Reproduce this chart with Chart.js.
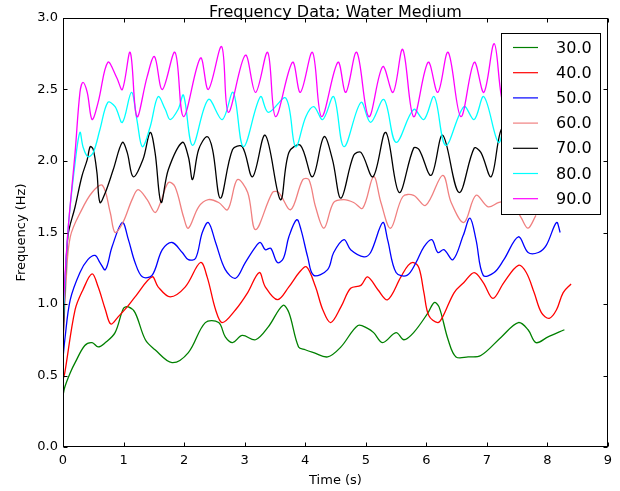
<!DOCTYPE html>
<html>
<head>
<meta charset="utf-8">
<script src="https://cdn.jsdelivr.net/npm/chart.js@4.4.1/dist/chart.umd.min.js"></script>
<style>
    body { margin: 0; background: #fff; }
    #wrap { width: 620px; height: 491px; }
</style>
</head>
<body>
<div id="wrap"><canvas id="freqChart" width="620" height="491"></canvas></div>
<script>
// Frequency (Hz) against time (s), one series per setting
const labels = ["30.0", "40.0", "50.0", "60.0", "70.0", "80.0", "90.0"];
const colors = ["#008000", "#ff0000", "#0000ff", "#f08080", "#000000", "#00ffff", "#ff00ff"];

const time30 = [0, 0.03, 0.12, 0.2, 0.36, 0.48, 0.58, 0.7, 0.86, 1.0, 1.08, 1.19, 1.36, 1.52, 1.8, 2.07, 2.35, 2.57, 2.68, 2.8, 2.96, 3.18, 3.39, 3.63, 3.73, 3.89, 4.0, 4.14, 4.37, 4.59, 4.87, 5.03, 5.13, 5.28, 5.5, 5.63, 5.79, 6.03, 6.13, 6.21, 6.36, 6.49, 6.69, 6.9, 7.24, 7.52, 7.68, 7.81, 8.01, 8.28];
const freq30 = [0.36, 0.42, 0.52, 0.59, 0.71, 0.73, 0.7, 0.73, 0.8, 0.97, 0.98, 0.94, 0.75, 0.68, 0.59, 0.66, 0.87, 0.87, 0.77, 0.73, 0.78, 0.75, 0.84, 0.99, 0.94, 0.7, 0.68, 0.66, 0.63, 0.7, 0.85, 0.83, 0.8, 0.73, 0.8, 0.75, 0.8, 0.94, 1.01, 0.98, 0.75, 0.63, 0.63, 0.64, 0.77, 0.87, 0.82, 0.73, 0.77, 0.82];

const time40 = [0, 0.03, 0.2, 0.33, 0.48, 0.58, 0.7, 0.79, 0.91, 1.06, 1.19, 1.47, 1.57, 1.77, 2.02, 2.27, 2.38, 2.52, 2.63, 2.85, 3.05, 3.24, 3.34, 3.54, 3.73, 3.9, 4.02, 4.17, 4.29, 4.42, 4.59, 4.75, 4.92, 5.03, 5.2, 5.36, 5.58, 5.7, 5.79, 5.88, 5.96, 6.04, 6.19, 6.27, 6.46, 6.62, 6.79, 6.94, 7.1, 7.28, 7.52, 7.65, 7.78, 7.9, 8.03, 8.15, 8.26, 8.39];
const freq40 = [0.47, 0.52, 0.96, 1.1, 1.21, 1.12, 0.96, 0.86, 0.91, 0.98, 1.05, 1.19, 1.12, 1.05, 1.12, 1.29, 1.19, 0.96, 0.87, 0.96, 1.08, 1.22, 1.12, 1.03, 1.12, 1.22, 1.26, 1.12, 0.96, 0.87, 0.98, 1.11, 1.13, 1.19, 1.1, 1.03, 1.19, 1.27, 1.29, 1.25, 1.08, 0.92, 0.87, 0.91, 1.08, 1.15, 1.22, 1.15, 1.04, 1.15, 1.27, 1.22, 1.08, 0.94, 0.9, 0.96, 1.08, 1.14];

const time50 = [0, 0.03, 0.12, 0.28, 0.41, 0.53, 0.61, 0.7, 0.81, 0.98, 1.08, 1.19, 1.31, 1.47, 1.64, 1.8, 1.97, 2.07, 2.19, 2.3, 2.4, 2.52, 2.68, 2.85, 3.01, 3.18, 3.26, 3.34, 3.43, 3.54, 3.64, 3.73, 3.86, 3.93, 4.04, 4.14, 4.37, 4.47, 4.64, 4.75, 4.97, 5.08, 5.28, 5.36, 5.5, 5.68, 5.83, 5.96, 6.09, 6.19, 6.29, 6.44, 6.61, 6.72, 6.82, 6.94, 7.12, 7.28, 7.52, 7.68, 7.85, 7.98, 8.15, 8.21];
const freq50 = [0.62, 0.75, 1.03, 1.22, 1.31, 1.34, 1.29, 1.24, 1.4, 1.57, 1.45, 1.29, 1.19, 1.2, 1.38, 1.43, 1.36, 1.31, 1.32, 1.5, 1.57, 1.43, 1.24, 1.18, 1.29, 1.4, 1.43, 1.38, 1.39, 1.29, 1.32, 1.47, 1.59, 1.52, 1.33, 1.2, 1.24, 1.36, 1.45, 1.38, 1.33, 1.36, 1.57, 1.45, 1.22, 1.2, 1.29, 1.4, 1.45, 1.36, 1.38, 1.31, 1.48, 1.6, 1.45, 1.2, 1.22, 1.31, 1.47, 1.36, 1.36, 1.41, 1.57, 1.5];

const time60 = [0, 0.05, 0.12, 0.31, 0.48, 0.65, 0.78, 0.86, 0.99, 1.14, 1.24, 1.39, 1.52, 1.61, 1.74, 1.85, 1.99, 2.07, 2.24, 2.4, 2.57, 2.72, 2.88, 3.05, 3.18, 3.46, 3.56, 3.76, 3.96, 4.06, 4.17, 4.31, 4.47, 4.64, 4.8, 4.95, 5.13, 5.25, 5.41, 5.61, 5.79, 5.99, 6.27, 6.41, 6.62, 6.82, 7.02, 7.2, 7.4, 7.57, 7.68, 7.81];
const freq60 = [0.7, 1.15, 1.47, 1.66, 1.78, 1.83, 1.64, 1.5, 1.57, 1.73, 1.8, 1.73, 1.64, 1.71, 1.85, 1.82, 1.61, 1.53, 1.68, 1.73, 1.71, 1.66, 1.87, 1.78, 1.52, 1.78, 1.78, 1.66, 1.87, 1.87, 1.68, 1.53, 1.71, 1.73, 1.71, 1.67, 1.89, 1.71, 1.53, 1.75, 1.76, 1.69, 1.9, 1.71, 1.57, 1.76, 1.68, 1.71, 1.72, 1.6, 1.53, 1.62];

const time70 = [0, 0.08, 0.2, 0.31, 0.4, 0.45, 0.5, 0.56, 0.61, 0.7, 0.83, 0.98, 1.06, 1.16, 1.32, 1.44, 1.52, 1.62, 1.74, 1.97, 2.07, 2.14, 2.24, 2.38, 2.47, 2.6, 2.8, 2.96, 3.13, 3.34, 3.59, 3.73, 3.92, 4.12, 4.31, 4.45, 4.59, 4.8, 4.92, 5.12, 5.33, 5.55, 5.79, 5.88, 6.08, 6.27, 6.54, 6.79, 6.9, 7.07, 7.22, 7.35];
const freq70 = [0.75, 1.47, 1.68, 1.89, 2.01, 2.1, 2.08, 1.92, 1.71, 1.78, 1.94, 2.13, 2.06, 1.89, 2.01, 2.2, 2.06, 1.71, 1.94, 2.13, 2.03, 1.87, 2.08, 2.17, 2.08, 1.74, 2.08, 2.1, 1.89, 2.18, 1.73, 2.06, 2.11, 1.89, 2.17, 2.01, 1.74, 2.04, 2.06, 1.89, 2.2, 1.78, 2.09, 2.08, 1.9, 2.18, 1.78, 2.09, 2.06, 1.89, 2.2, 2.3];

const time80 = [0, 0.08, 0.2, 0.28, 0.33, 0.41, 0.5, 0.61, 0.74, 0.86, 0.98, 1.13, 1.22, 1.31, 1.44, 1.57, 1.69, 1.77, 1.9, 1.99, 2.14, 2.4, 2.63, 2.81, 2.98, 3.26, 3.39, 3.68, 3.84, 4.01, 4.14, 4.29, 4.47, 4.64, 4.92, 5.08, 5.3, 5.5, 5.79, 5.96, 6.13, 6.32, 6.62, 6.79, 6.95, 7.19, 7.3];
const freq80 = [0.85, 1.5, 1.99, 2.2, 2.1, 2.03, 2.06, 2.22, 2.41, 2.38, 2.27, 2.48, 2.29, 2.1, 2.24, 2.45, 2.36, 2.29, 2.36, 2.46, 2.11, 2.43, 2.29, 2.48, 2.1, 2.45, 2.34, 2.44, 2.1, 2.31, 2.38, 2.29, 2.45, 2.1, 2.41, 2.27, 2.43, 2.13, 2.36, 2.29, 2.45, 2.11, 2.38, 2.29, 2.45, 2.13, 2.3];

const time90 = [0, 0.08, 0.2, 0.28, 0.33, 0.4, 0.48, 0.58, 0.74, 0.89, 0.98, 1.11, 1.22, 1.39, 1.51, 1.64, 1.85, 1.99, 2.27, 2.4, 2.62, 2.73, 3.01, 3.18, 3.38, 3.51, 3.79, 3.92, 4.12, 4.27, 4.54, 4.67, 4.85, 5.05, 5.28, 5.45, 5.61, 5.79, 6.03, 6.19, 6.36, 6.57, 6.79, 6.95, 7.12, 7.24, 7.35];
const freq90 = [0.95, 1.5, 2.06, 2.48, 2.55, 2.48, 2.29, 2.41, 2.69, 2.58, 2.5, 2.76, 2.31, 2.59, 2.73, 2.5, 2.76, 2.31, 2.72, 2.5, 2.8, 2.34, 2.74, 2.48, 2.76, 2.31, 2.69, 2.48, 2.76, 2.31, 2.69, 2.48, 2.76, 2.31, 2.66, 2.48, 2.78, 2.31, 2.69, 2.48, 2.76, 2.31, 2.69, 2.48, 2.82, 2.45, 2.3];

const xTicks = [0, 1, 2, 3, 4, 5, 6, 7, 8, 9];
const yTicks = [0, 0.5, 1.0, 1.5, 2.0, 2.5, 3.0];

const times = [time30, time40, time50, time60, time70, time80, time90];
const freqs = [freq30, freq40, freq50, freq60, freq70, freq80, freq90];

const FONT = "'DejaVu Sans', 'Bitstream Vera Sans', sans-serif";

// frame, inward ticks, titles and the boxed legend, drawn like the matplotlib figure
const decorations = {
    id: "decorations",
    afterDraw(chart) {
        const ctx = chart.ctx;
        const a = chart.chartArea;
        const xs = chart.scales.x;
        const ys = chart.scales.y;
        const L = Math.round(a.left) + 0.5, R = Math.round(a.right) - 0.5;
        const T = Math.round(a.top) + 0.5, B = Math.round(a.bottom) - 0.5;
        ctx.save();
        ctx.strokeStyle = "#000";
        ctx.lineWidth = 1;
        ctx.beginPath();
        xTicks.forEach(v => {
            const px = Math.round(xs.getPixelForValue(v)) + 0.5;
            ctx.moveTo(px, B); ctx.lineTo(px, B - 4);
            ctx.moveTo(px, T); ctx.lineTo(px, T + 4);
        });
        yTicks.forEach(v => {
            const py = Math.round(ys.getPixelForValue(v)) + 0.5;
            ctx.moveTo(L, py); ctx.lineTo(L + 4, py);
            ctx.moveTo(R, py); ctx.lineTo(R - 4, py);
        });
        ctx.stroke();
        ctx.strokeRect(L, T, R - L, B - T);

        ctx.fillStyle = "#000";
        ctx.textAlign = "center";
        ctx.textBaseline = "alphabetic";
        ctx.font = "16px " + FONT;
        ctx.fillText("Frequency Data; Water Medium", (a.left + a.right) / 2, 17);

        ctx.font = "13px " + FONT;
        ctx.textBaseline = "middle";
        ctx.fillText("Time (s)", (a.left + a.right) / 2, 481);
        ctx.save();
        ctx.translate(22, (a.top + a.bottom) / 2);
        ctx.rotate(-Math.PI / 2);
        ctx.fillText("Frequency (Hz)", 0, 0);
        ctx.restore();

        // legend
        ctx.fillStyle = "#fff";
        ctx.fillRect(501.5, 33.5, 99, 181);
        ctx.strokeStyle = "#000";
        ctx.strokeRect(501.5, 33.5, 99, 181);
        ctx.font = "16px " + FONT;
        ctx.textAlign = "left";
        chart.data.datasets.forEach((ds, i) => {
            const y = 47.5 + i * 25.2;
            ctx.strokeStyle = ds.borderColor;
            ctx.lineWidth = 1.2;
            ctx.beginPath();
            ctx.moveTo(513, y); ctx.lineTo(538, y);
            ctx.stroke();
            ctx.fillStyle = "#000";
            ctx.fillText(ds.label, 556, y + 1);
        });
        ctx.restore();
    }
};

const ctx = document.getElementById("freqChart");

new Chart(ctx, {
    type: "line",
    data: {
        datasets: labels.map((lab, i) => ({
            label: lab,
            data: times[i].map((t, k) => ({ x: t, y: freqs[i][k] })),
            borderColor: colors[i],
            backgroundColor: colors[i],
            borderWidth: 1.3,
            pointRadius: 0,
            tension: 0.35,
            fill: false,
            order: labels.length - i
        }))
    },
    options: {
        responsive: false,
        animation: false,
        layout: { padding: { top: 18, right: 12, left: 0, bottom: 0 } },
        plugins: {
            legend: { display: false },
            title: { display: false },
            tooltip: { enabled: false }
        },
        scales: {
            x: {
                type: "linear",
                min: 0,
                max: 9,
                grid: { display: false, drawTicks: false },
                border: { display: false },
                ticks: {
                    stepSize: 1,
                    padding: 6,
                    maxRotation: 0,
                    color: "#000",
                    font: { family: FONT, size: 13 }
                },
                afterFit: s => { s.height = 44; }
            },
            y: {
                min: 0,
                max: 3,
                grid: { display: false, drawTicks: false },
                border: { display: false },
                ticks: {
                    stepSize: 0.5,
                    padding: 5,
                    color: "#000",
                    font: { family: FONT, size: 13 },
                    callback: v => Number(v).toFixed(1)
                },
                afterFit: s => { s.width = 63; }
            }
        }
    },
    plugins: [decorations]
});
</script>
</body>
</html>
